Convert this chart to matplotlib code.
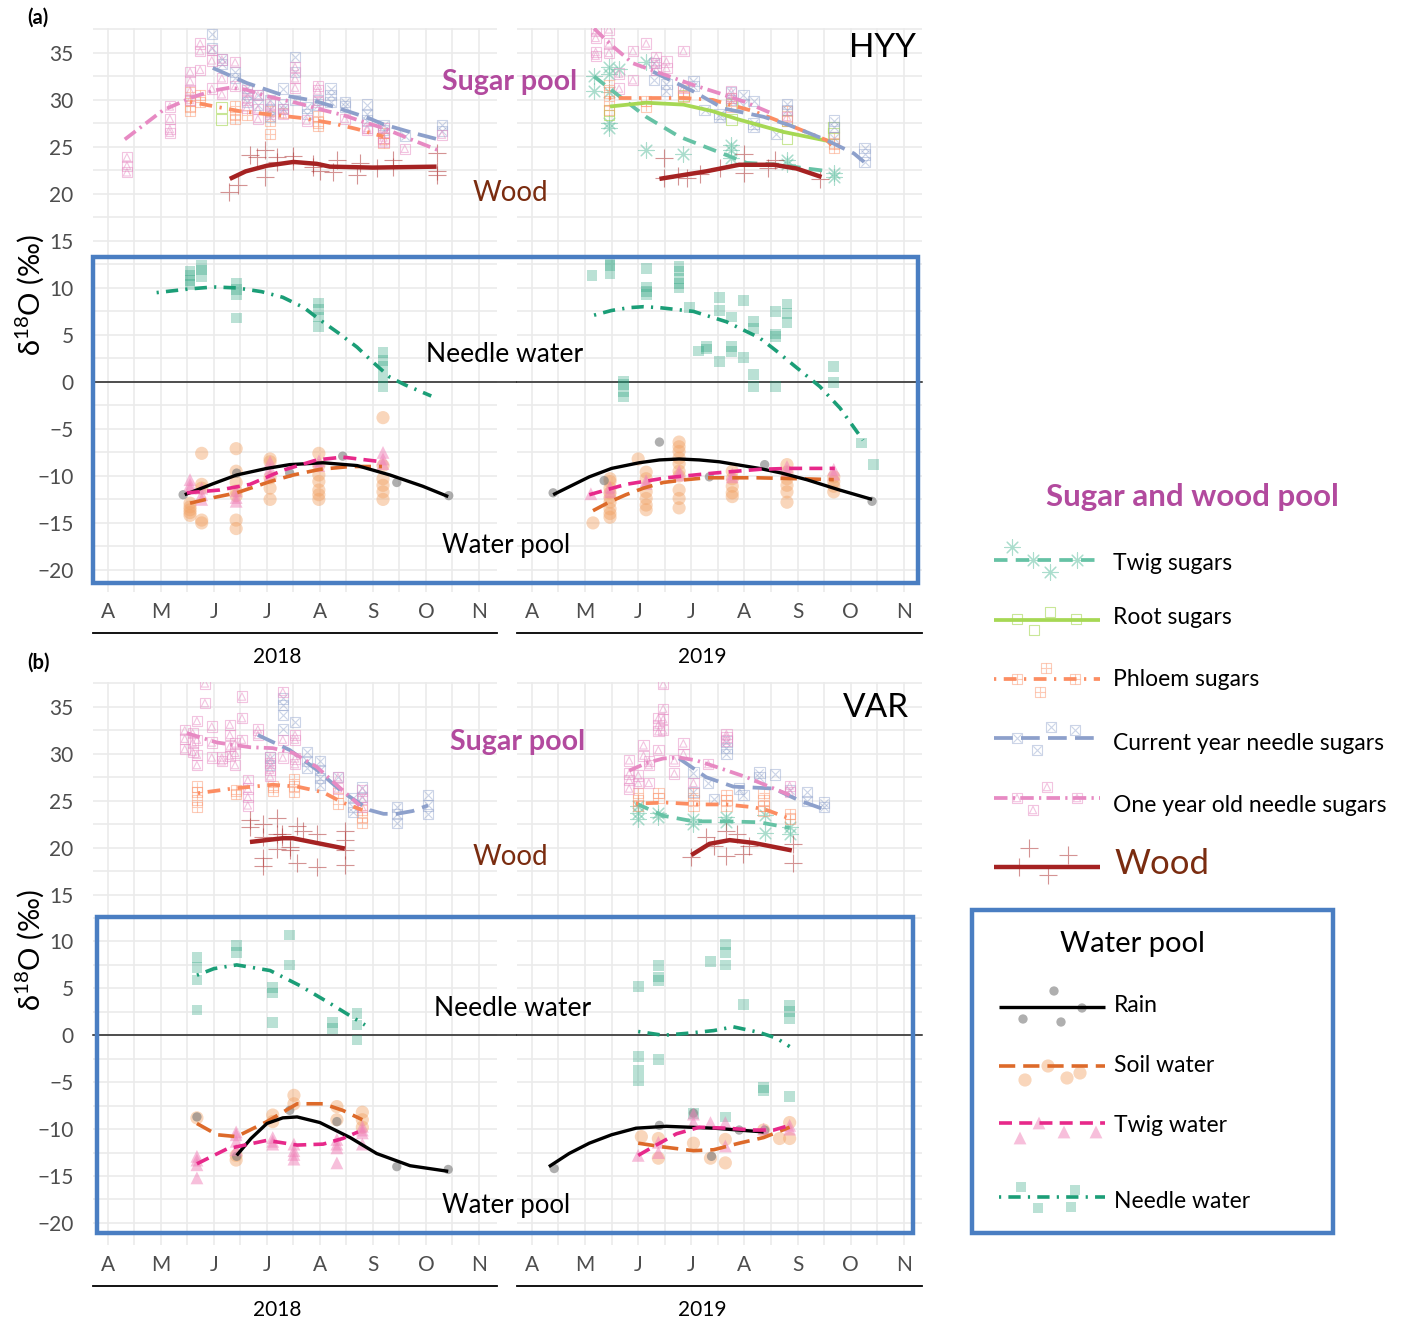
import numpy as np
import matplotlib
matplotlib.use('Agg')
import matplotlib.pyplot as plt
from matplotlib.patches import Rectangle

plt.rcParams['font.family'] = ['Lato', 'DejaVu Sans']
plt.rcParams['mathtext.fontset'] = 'custom'
plt.rcParams['mathtext.rm'] = 'Lato'
plt.rcParams['mathtext.it'] = 'Lato:italic'

W, H = 1404, 1323

# axis ticks
months = [4, 5, 6, 7, 8, 9, 10, 11]
month_labels = ['A', 'M', 'J', 'J', 'A', 'S', 'O', 'N']
y_ticks = [-20, -15, -10, -5, 0, 5, 10, 15, 20, 25, 30, 35]
years = ['2018', '2019']

# ---------------- HYY 2018 (x = month, 4 = 1 April) ----------------
hyy18_oneyr_pts = [(4.36, [23.9, 23.0, 22.3]), (5.17, [29.3, 28.0, 26.9, 26.5]), (5.55, [33.0, 32.0, 31.0, 30.0]),
                   (5.74, [36.0, 35.2, 33.2]), (5.96, [35.3, 34.2, 31.2]), (6.15, [34.3, 32.3, 30.6]),
                   (6.4, [34.0, 31.5]), (6.62, [31.0, 30.0, 29.2]), (6.83, [30.5, 29.0, 28.0]),
                   (7.06, [29.5, 28.5]), (7.3, [29.0, 28.5]), (7.53, [33.5, 32.3, 31.3]), (7.75, [27.8]),
                   (7.96, [31.5, 31.0, 29.8]), (8.47, [28.0]), (8.89, [27.0, 26.8]), (9.2, [27.0, 26.0, 25.5]),
                   (9.6, [24.8]), (10.3, [26.3])]
hyy18_current_pts = [(5.96, [37.0, 35.5]), (6.15, [34.3, 33.8]), (6.4, [33.0, 32.3]), (6.62, [31.3, 30.6, 29.8]),
                     (6.83, [30.5, 29.5]), (7.06, [30.0, 29.0, 28.2]), (7.3, [31.2, 29.5, 29.0]),
                     (7.53, [34.6, 33.0, 30.0]), (7.75, [29.2, 28.5]), (7.96, [30.0, 29.5]),
                     (8.2, [31.2, 30.5, 29.8]), (8.47, [29.8, 29.3]), (8.89, [29.5, 28.5, 27.8]),
                     (9.2, [27.3, 26.8]), (9.6, [26.2]), (10.3, [27.3, 26.7])]
hyy18_phloem_pts = [(5.55, [30.8, 30.0, 29.3, 28.8]), (5.74, [30.5, 29.8]), (6.4, [29.3, 28.4, 28.0]),
                    (6.62, [28.4]), (7.06, [28.8, 27.8, 26.4]), (7.3, [28.6]), (7.96, [28.3, 27.6, 27.2]),
                    (9.2, [26.5, 25.9, 25.4])]
hyy18_root_pts = [(6.15, [29.2, 27.9])]
hyy18_wood_pts = [(6.28, [20.2]), (6.45, [21.0]), (6.68, [24.1]), (6.81, [23.9]), (6.96, [24.7, 21.8]),
                  (7.19, [23.9, 23.4]), (7.49, [24.0, 23.5]), (7.87, [22.9, 23.2]), (8.0, [22.4]),
                  (8.25, [22.3]), (8.32, [23.6]), (8.7, [22.0]), (8.75, [23.3]), (9.08, [22.8]),
                  (9.38, [23.6, 22.9]), (10.2, [24.4, 22.4, 22.0])]
hyy18_oneyr_fit = [(4.32, 25.8), (5.04, 28.9), (5.6, 30.3), (6.0, 31.0), (6.3, 31.3), (6.6, 31.1), (7.0, 30.4),
                   (7.62, 29.6), (8.0, 29.0), (8.43, 28.4), (8.8, 27.7), (9.2, 27.0), (9.76, 25.7), (10.3, 24.5)]
hyy18_current_fit = [(5.98, 33.4), (6.62, 31.8), (7.3, 30.5), (7.9, 29.9), (8.25, 29.3), (8.9, 28.1),
                     (9.2, 27.4), (9.75, 26.5), (10.3, 25.7)]
hyy18_phloem_fit = [(5.55, 29.8), (6.49, 28.8), (7.62, 28.1), (8.25, 27.5), (8.7, 26.9), (9.2, 26.1)]
hyy18_wood_fit = [(6.3, 21.6), (6.6, 22.4), (7.0, 23.0), (7.5, 23.4), (7.94, 23.2), (8.19, 22.9), (9.0, 22.8),
                  (10.2, 22.9)]

hyy18_needle_pts = [(5.55, [11.8, 11.3, 10.8, 10.4]), (5.77, [12.4, 11.9, 11.2]), (6.42, [10.5, 9.8, 9.3, 6.8]),
                    (7.98, [8.4, 7.7, 6.9, 5.9]), (9.19, [3.1, 2.3, 1.6, 0.5, -0.5])]
hyy18_needle_fit = [(4.92, 9.5), (5.55, 9.9), (6.0, 10.1), (6.43, 10.0), (6.9, 9.6), (7.3, 9.0), (7.7, 7.9),
                    (8.0, 6.6), (8.35, 5.2), (8.7, 3.7), (9.0, 2.1), (9.32, 0.5), (9.6, -0.3), (10.1, -1.5)]
hyy18_rain_pts = [(5.42, [-12.0]), (6.43, [-9.7]), (7.43, [-9.7]), (8.43, [-7.9]), (9.45, [-10.7]), (10.43, [-12.1])]
hyy18_rain_fit = [(5.45, -12.0), (6.0, -10.8), (6.43, -9.9), (7.0, -9.2), (7.43, -8.8), (8.06, -8.6), (8.7, -8.9),
                  (9.32, -9.9), (9.94, -11.1), (10.42, -12.2)]
hyy18_soil_pts = [(5.55, [-13.3, -13.6, -13.9, -14.2, -12.9]), (5.77, [-7.6, -10.9, -11.3, -14.7, -15.0]),
                  (6.42, [-7.1, -9.5, -10.7, -11.6, -12.1, -14.7, -15.6]), (7.06, [-8.2, -8.5, -10.2, -11.3, -12.5]),
                  (7.98, [-7.6, -8.9, -9.9, -10.6, -11.5, -12.0, -12.5]),
                  (9.19, [-3.8, -8.9, -10.3, -11.0, -11.7, -12.5])]
hyy18_soil_fit = [(5.55, -12.9), (6.0, -12.3), (6.43, -11.8), (7.06, -10.6), (7.5, -9.9), (8.0, -9.3),
                  (8.57, -9.0), (9.17, -9.0)]
hyy18_twigw_pts = [(5.55, [-10.4, -10.9, -11.3]), (5.77, [-11.3, -12.0, -12.5]), (6.42, [-11.6, -12.3, -12.7]),
                   (7.06, [-8.5, -9.2, -9.9]), (7.98, [-8.4, -8.9]), (9.19, [-7.5, -8.2, -8.7])]
hyy18_twigw_fit = [(5.49, -11.8), (6.11, -11.5), (6.68, -10.9), (7.3, -9.4), (7.94, -8.3), (8.43, -8.0),
                   (9.17, -8.5)]

# ---------------- HYY 2019 ----------------
hyy19_twig_pts = [(5.17, [32.5, 31.0]), (5.45, [33.5, 32.8, 30.8, 27.5, 27.0]), (5.64, [33.3]),
                  (6.15, [34.0, 24.7]), (6.85, [24.2]), (7.75, [25.2, 24.7, 23.8]), (8.8, [23.6, 23.2]),
                  (9.68, [22.2, 21.8])]
hyy19_oneyr_pts = [(5.2, [37.3, 36.6, 35.1, 34.7]), (5.45, [37.5, 36.0, 35.0]), (5.64, [32.8, 31.2]),
                   (5.9, [35.2, 32.1]), (6.15, [36.0]), (6.34, [34.6, 33.9, 33.2]), (6.53, [34.1, 33.4]),
                   (6.85, [35.2, 31.3]), (7.75, [30.9, 30.2]), (8.8, [28.2])]
hyy19_current_pts = [(6.3, [33.9, 32.1]), (6.53, [31.7, 31.0]), (7.04, [32.0, 31.5]), (7.25, [28.9]),
                     (7.53, [28.5, 28.2]), (7.75, [30.8, 30.0]), (7.98, [30.5, 29.5]), (8.17, [29.9, 27.5, 27.1]),
                     (8.6, [26.4]), (8.8, [29.6, 28.9]), (9.68, [27.8, 27.1, 26.0]), (10.26, [24.9, 24.2, 23.4])]
hyy19_phloem_pts = [(5.45, [31.6, 30.8, 29.9, 28.9]), (6.15, [29.9, 29.3]), (6.85, [31.0, 30.3]),
                    (7.75, [30.2, 29.3]), (8.8, [28.8, 27.8]), (9.68, [26.0, 25.3, 24.9])]
hyy19_root_pts = [(5.45, [28.9, 28.4]), (6.85, [30.5]), (7.75, [29.5, 27.9]), (8.8, [27.8, 25.9]),
                  (9.68, [27.1, 26.4])]
hyy19_wood_pts = [(6.49, [23.8, 21.7]), (6.74, [21.9]), (6.92, [21.7]), (7.17, [22.1]), (7.53, [22.8]),
                  (8.0, [24.2, 22.2]), (8.45, [22.8]), (8.58, [23.6]), (9.43, [21.6])]
hyy19_twig_fit = [(5.17, 32.5), (5.53, 30.9), (6.15, 28.2), (6.77, 26.1), (7.4, 24.7), (8.04, 23.3), (8.66, 23.1),
                  (9.17, 22.7), (9.6, 22.4)]
hyy19_root_fit = [(5.47, 29.3), (6.15, 29.7), (6.85, 29.5), (7.4, 28.8), (7.9, 27.9), (8.73, 26.6), (9.6, 25.6)]
hyy19_phloem_fit = [(5.45, 30.2), (6.15, 30.2), (6.85, 30.2), (7.4, 30.0), (8.17, 28.8), (8.85, 27.3),
                    (9.55, 25.7), (9.64, 25.2)]
hyy19_current_fit = [(6.28, 33.0), (7.04, 30.9), (7.6, 29.1), (8.36, 28.2), (8.85, 27.3), (9.55, 25.7),
                     (10.06, 24.3), (10.25, 23.4)]
hyy19_oneyr_fit = [(5.17, 37.6), (5.5, 35.8), (5.9, 33.9), (6.34, 33.0), (7.03, 31.6), (7.53, 30.7),
                   (8.0, 29.8), (8.5, 28.6)]
hyy19_wood_fit = [(6.4, 21.6), (7.28, 22.4), (7.9, 23.1), (8.55, 23.1), (8.98, 22.7), (9.45, 21.8)]

hyy19_needle_pts = [(5.13, [11.3]), (5.47, [12.7, 12.4, 11.5]), (5.72, [0.1, -0.3, -1.0, -1.6]),
                    (6.15, [12.1, 10.1, 9.6, 9.3]), (6.77, [12.3, 11.8, 11.0, 10.5, 10.0]), (6.96, [7.9]),
                    (7.13, [3.3]), (7.28, [3.8, 3.5]), (7.53, [9.0, 7.6, 2.2]), (7.75, [6.9, 3.8, 3.2]),
                    (7.98, [8.7, 2.6]), (8.17, [6.4, 5.7, 0.8, -0.5]), (8.58, [7.5, 5.1, 4.8, -0.5]),
                    (8.8, [8.3, 7.3, 6.3]), (9.68, [1.6, -0.1]), (10.2, [-6.5]), (10.43, [-8.8])]
hyy19_needle_fit = [(5.17, 7.1), (5.5, 7.6), (5.83, 7.9), (6.1, 8.0), (6.4, 7.9), (7.04, 7.5), (7.66, 6.4),
                    (8.28, 4.7), (8.6, 3.3), (8.92, 1.8), (9.42, -0.5), (9.8, -2.8), (10.23, -6.2)]
hyy19_rain_pts = [(4.4, [-11.8]), (5.36, [-10.5]), (6.4, [-6.4]), (7.34, [-10.1]), (8.38, [-8.8]), (10.4, [-12.7])]
hyy19_rain_fit = [(4.4, -12.0), (5.08, -10.1), (5.5, -9.2), (6.02, -8.6), (6.4, -8.3), (6.77, -8.2),
                  (7.15, -8.3), (7.53, -8.5), (8.28, -9.2), (8.7, -9.7), (9.17, -10.4), (9.79, -11.5),
                  (10.4, -12.5)]
hyy19_soil_pts = [(5.15, [-15.0]), (5.47, [-10.3, -10.6, -11.3, -11.8, -12.3, -12.8, -13.5, -14.0, -14.4]),
                  (6.0, [-8.2]), (6.15, [-9.6, -10.3, -11.7, -12.4, -13.1, -13.6]),
                  (6.77, [-6.4, -6.9, -7.4, -8.1, -8.7, -9.5, -10.0, -11.5, -12.4, -13.4]),
                  (7.77, [-9.5, -10.3, -11.1, -11.8, -12.2]), (8.8, [-8.8, -9.6, -10.3, -11.0, -11.7, -12.8]),
                  (9.68, [-10.1, -10.6, -11.1, -11.7])]
hyy19_soil_fit = [(5.15, -13.7), (5.45, -12.8), (5.77, -12.0), (6.1, -11.3), (6.47, -10.7), (6.9, -10.4),
                  (7.28, -10.2), (8.23, -10.2), (9.04, -10.3), (9.68, -10.4)]
hyy19_twigw_pts = [(5.11, [-11.9]), (5.47, [-11.2, -11.7]), (6.15, [-10.5, -10.8]), (6.77, [-9.5, -9.9]),
                   (7.77, [-9.8, -10.1]), (8.8, [-9.0, -9.5]), (9.68, [-9.3, -9.8])]
hyy19_twigw_fit = [(5.08, -12.0), (5.77, -10.9), (6.53, -10.2), (7.42, -9.7), (8.28, -9.3), (8.85, -9.2),
                   (9.7, -9.2)]

# ---------------- VAR 2018 ----------------
var18_oneyr_pts = [(5.45, [32.5, 31.6, 30.5]), (5.6, [32.2, 31.2, 30.2]), (5.68, [33.5, 31.5, 29.9, 28.8]),
                   (5.83, [37.5, 35.4]), (5.96, [32.9, 31.2, 29.6]), (6.15, [29.6, 29.2]),
                   (6.3, [33.1, 32.0, 30.8, 29.8]), (6.4, [31.1, 30.1, 28.8]), (6.53, [36.1, 33.8, 31.5]),
                   (6.64, [27.2, 26.3, 25.4, 24.5]), (6.83, [32.6, 32.0]), (7.06, [29.6, 29.0, 28.3, 27.6]),
                   (7.3, [36.6, 31.5, 29.6]), (7.53, [32.0, 31.5, 29.5, 28.9]), (8.34, [27.5, 26.3]),
                   (8.8, [26.1, 25.2, 24.3])]
var18_current_pts = [(7.06, [29.6, 28.8]), (7.3, [35.9, 35.2, 34.1, 32.6]), (7.53, [33.4]),
                     (7.75, [30.2, 29.2, 28.5]), (8.0, [29.2, 28.3, 27.4, 26.7]), (8.34, [27.5]),
                     (8.62, [25.3, 24.3, 23.8]), (8.8, [26.4, 25.4]), (9.45, [24.3, 23.6, 22.6]),
                     (10.04, [25.6, 24.5, 23.6])]
var18_phloem_pts = [(5.68, [26.5, 25.9, 25.1, 24.3]), (6.42, [26.1, 25.7]), (7.11, [26.5, 26.1]),
                    (7.51, [27.3, 26.6, 25.9]), (8.34, [25.8, 24.7]), (8.8, [24.0, 23.3, 22.6])]
var18_wood_pts = [(6.68, [22.9, 22.2]), (6.92, [22.5, 21.1, 18.9, 18.0]), (7.19, [23.2, 21.5, 19.9]),
                  (7.28, [21.5, 21.1]), (7.43, [20.1, 19.7]), (7.57, [22.3, 18.4]), (7.68, [21.8]),
                  (7.94, [21.5, 17.9]), (8.47, [21.8, 20.8, 19.7, 18.1])]
var18_oneyr_fit = [(5.49, 32.2), (6.06, 31.2), (6.68, 30.7), (7.11, 30.6), (7.49, 30.1), (7.94, 28.6),
                   (8.43, 26.1), (8.75, 24.5)]
var18_current_fit = [(6.83, 32.0), (7.43, 30.4), (7.94, 28.3), (8.43, 25.9), (8.94, 24.0), (9.2, 23.6),
                     (9.45, 23.6), (9.75, 23.9), (10.04, 24.5)]
var18_phloem_fit = [(5.7, 25.8), (6.36, 26.3), (7.11, 26.7), (7.57, 26.5), (8.06, 25.9), (8.43, 24.8),
                    (8.8, 24.0)]
var18_wood_fit = [(6.68, 20.6), (7.3, 21.0), (7.49, 21.0), (8.47, 19.9)]

var18_needle_pts = [(5.68, [8.3, 7.2, 5.9, 2.7]), (6.42, [9.6, 8.8]), (7.11, [5.1, 4.5, 1.4]), (7.43, [10.7, 7.5]),
                    (8.24, [1.4, 0.7]), (8.7, [2.3, 1.1, -0.5])]
var18_needle_fit = [(5.68, 6.4), (6.0, 7.1), (6.43, 7.5), (7.06, 6.9), (7.62, 5.3), (8.19, 3.4), (8.85, 1.1)]
var18_rain_pts = [(5.68, [-8.7]), (6.43, [-12.9]), (7.43, [-8.0]), (8.32, [-9.2]), (9.45, [-14.0]), (10.42, [-14.3])]
var18_rain_fit = [(6.43, -12.8), (6.7, -11.0), (7.0, -9.4), (7.3, -8.8), (7.57, -8.7), (8.0, -9.3), (8.57, -10.9),
                  (9.07, -12.6), (9.7, -13.9), (10.42, -14.5)]
var18_soil_pts = [(5.68, [-8.8]), (6.42, [-13.3, -12.8]), (7.11, [-8.5, -9.2]), (7.51, [-6.4, -7.3]),
                  (8.32, [-7.6, -9.0]), (8.8, [-8.2, -9.0, -9.8])]
var18_soil_fit = [(5.68, -9.4), (6.06, -10.6), (6.43, -10.8), (7.0, -9.2), (7.57, -7.3), (8.06, -7.3),
                  (8.43, -8.0), (8.8, -9.0)]
var18_twigw_pts = [(5.68, [-12.9, -13.3, -13.8, -15.2]), (6.42, [-10.3, -10.6, -11.3, -12.2]),
                   (7.11, [-10.9, -11.3, -11.6]), (7.51, [-11.6, -12.3, -12.7, -13.2]),
                   (8.32, [-11.1, -11.6, -12.0, -13.6]), (8.8, [-9.7, -10.1, -10.4, -11.6])]
var18_twigw_fit = [(5.68, -13.7), (6.25, -12.1), (7.0, -11.2), (7.57, -11.7), (8.06, -11.6), (8.43, -11.0),
                   (8.72, -10.3)]

# ---------------- VAR 2019 ----------------
var19_oneyr_pts = [(5.83, [29.3, 27.9, 27.2, 26.3]), (6.0, [27.7, 26.9]), (6.1, [30.9, 29.8]),
                   (6.2, [29.2, 28.8, 26.9]), (6.38, [33.8, 33.1, 32.4, 30.4]), (6.47, [37.4, 34.8, 33.7, 32.5]),
                   (6.68, [29.3, 27.9]), (6.85, [31.1, 30.0]), (7.04, [26.9]), (7.32, [28.9]),
                   (7.66, [32.1, 31.8, 31.4]), (8.85, [26.6, 25.9])]
var19_current_pts = [(7.04, [28.0, 25.9]), (7.32, [26.9]), (7.43, [25.2]), (7.66, [31.3, 30.6, 30.0]),
                     (7.9, [26.3]), (7.98, [25.6]), (8.28, [28.0, 27.5]), (8.57, [27.8]), (8.85, [26.1]),
                     (9.17, [25.9, 25.0]), (9.49, [24.8, 24.3])]
var19_phloem_pts = [(6.0, [25.8, 25.1, 24.4]), (6.38, [25.8, 25.3]), (7.04, [25.8, 25.1, 24.4]),
                    (7.66, [25.6, 25.1, 24.4]), (8.36, [25.8, 25.1, 24.4, 23.9]), (8.85, [23.6, 23.1])]
var19_twig_pts = [(6.0, [24.4, 23.7, 23.0]), (6.38, [23.7, 23.3]), (7.04, [23.0, 22.5]), (7.66, [23.3, 22.7]),
                  (8.38, [23.5, 21.6]), (8.85, [22.2, 21.5])]
var19_wood_pts = [(7.0, [19.0]), (7.28, [21.1]), (7.43, [20.2]), (7.66, [21.8, 19.1]), (7.85, [21.4]),
                  (7.98, [19.3]), (8.09, [20.2]), (8.92, [20.4, 18.4])]
var19_oneyr_fit = [(5.83, 28.2), (6.15, 29.0), (6.47, 29.5), (6.77, 29.6), (7.09, 29.3), (7.47, 28.6),
                   (8.04, 27.5), (8.55, 26.3), (8.85, 25.6)]
var19_current_fit = [(6.77, 29.5), (7.28, 27.5), (7.79, 26.5), (8.17, 26.4), (8.55, 26.3), (9.04, 25.0),
                     (9.49, 24.1)]
var19_phloem_fit = [(5.96, 24.7), (6.53, 24.8), (7.15, 24.6), (7.66, 24.6), (8.17, 24.3), (8.42, 24.0),
                    (8.85, 23.1)]
var19_twig_fit = [(5.96, 24.7), (6.47, 23.4), (7.04, 22.8), (7.66, 22.8), (8.28, 22.7), (8.85, 22.1)]
var19_wood_fit = [(7.0, 19.2), (7.34, 20.4), (7.72, 20.8), (8.17, 20.5), (8.89, 19.7)]

var19_needle_pts = [(6.0, [5.2, -2.3, -3.7, -4.8]), (6.38, [7.4, 6.2, 5.8, -2.6]), (7.04, [-8.3]), (7.36, [7.9]),
                    (7.64, [9.7, 8.8, 7.5, -8.7]), (7.98, [3.3]), (8.36, [-5.6, -5.9]),
                    (8.85, [3.2, 2.5, 1.8, -6.5])]
var19_needle_fit = [(6.0, 0.4), (6.47, 0.0), (6.9, 0.2), (7.42, 0.5), (7.79, 0.9), (8.28, 0.3), (8.6, -0.3),
                    (8.85, -1.2)]
var19_rain_pts = [(4.42, [-14.2]), (6.4, [-9.6]), (7.04, [-8.3]), (7.38, [-12.9]), (7.9, [-10.1]), (8.38, [-10.1])]
var19_rain_fit = [(4.32, -14.0), (4.7, -12.6), (5.08, -11.5), (5.5, -10.6), (5.96, -9.9), (6.53, -9.7),
                  (7.42, -9.9), (8.36, -10.3)]
var19_soil_pts = [(6.06, [-10.8]), (6.38, [-11.0, -13.1]), (7.04, [-11.5]), (7.36, [-13.1]),
                  (7.64, [-11.1, -13.6]), (8.36, [-10.1]), (8.66, [-11.0]), (8.85, [-9.3, -11.0])]
var19_soil_fit = [(6.0, -11.5), (6.47, -11.9), (7.04, -12.3), (7.42, -12.2), (7.9, -11.5), (8.36, -10.9),
                  (8.85, -9.8)]
var19_twigw_pts = [(6.0, [-12.8]), (6.38, [-11.4, -12.5]), (7.04, [-8.4, -9.3]), (7.36, [-9.3]),
                   (7.64, [-9.3, -11.8]), (8.36, [-10.0]), (8.85, [-9.6, -10.0])]
var19_twigw_fit = [(6.0, -12.8), (6.34, -11.7), (6.72, -10.5), (7.15, -9.8), (7.66, -9.9), (8.17, -10.1),
                   (8.55, -10.1), (8.85, -9.6)]

# ---------------- styles ----------------
DOTDASH = (0, (0.6, 2.0, 3.4, 2.0))
STYLE = {
    'twig': dict(color='#66C2A5', ls=(0, (3.6, 2.2)), lw=2.7),
    'root': dict(color='#A6D854', ls='-', lw=2.7),
    'phloem': dict(color='#FC8D62', ls=DOTDASH, lw=2.7),
    'current': dict(color='#8DA0CB', ls=(0, (5.0, 2.2)), lw=2.7),
    'oneyr': dict(color='#E78AC3', ls=(0, (3.6, 1.4, 0.6, 1.4)), lw=2.7),
    'wood': dict(color='#A52222', ls='-', lw=3.2),
    'rain': dict(color='black', ls='-', lw=2.4),
    'soil': dict(color='#DD6A2A', ls=(0, (4.5, 2.2)), lw=2.6),
    'twigw': dict(color='#E7298A', ls=(0, (3.6, 2.0)), lw=2.6),
    'needle': dict(color='#1B9E77', ls=DOTDASH, lw=2.6),
}


def marks(ax, xs, ys, kind):
    if kind == 'twig':
        ax.scatter(xs, ys, marker=(8, 2, 0), s=120, color='#66C2A5', linewidths=0.8, alpha=0.55, zorder=2)
    elif kind == 'root':
        ax.scatter(xs, ys, marker='s', s=60, facecolors='none', edgecolors='#A6D854', linewidths=0.8, alpha=0.6, zorder=2)
    elif kind == 'phloem':
        ax.scatter(xs, ys, marker='s', s=55, facecolors='none', edgecolors='#FC8D62', linewidths=0.8, alpha=0.45, zorder=2)
        ax.scatter(xs, ys, marker='+', s=50, color='#FC8D62', linewidths=0.8, alpha=0.45, zorder=2)
    elif kind == 'current':
        ax.scatter(xs, ys, marker='s', s=55, facecolors='none', edgecolors='#8DA0CB', linewidths=0.8, alpha=0.45, zorder=2)
        ax.scatter(xs, ys, marker='x', s=35, color='#8DA0CB', linewidths=0.8, alpha=0.45, zorder=2)
    elif kind == 'oneyr':
        ax.scatter(xs, ys, marker='s', s=55, facecolors='none', edgecolors='#E78AC3', linewidths=0.8, alpha=0.5, zorder=2)
        ax.scatter(xs, ys, marker='^', s=28, facecolors='none', edgecolors='#E78AC3', linewidths=0.8, alpha=0.5, zorder=2)
    elif kind == 'wood':
        ax.scatter(xs, ys, marker='+', s=150, color='#B23A3A', linewidths=0.8, alpha=0.55, zorder=2)
    elif kind == 'rain':
        ax.scatter(xs, ys, marker='o', s=45, color='#7A7A7A', edgecolors='none', alpha=0.6, zorder=2)
    elif kind == 'soil':
        ax.scatter(xs, ys, marker='o', s=90, color='#F2A468', edgecolors='none', alpha=0.45, zorder=2)
    elif kind == 'twigw':
        ax.scatter(xs, ys, marker='^', s=85, color='#F080B8', edgecolors='none', alpha=0.5, zorder=2)
    elif kind == 'needle':
        ax.scatter(xs, ys, marker='s', s=60, color='#1B9E77', edgecolors='none', alpha=0.3, zorder=2)


def draw_series(ax, kind, pts, fit):
    xs = [m for m, vals in pts for _ in vals]
    ys = [v for m, vals in pts for v in vals]
    marks(ax, xs, ys, kind)
    st = STYLE[kind]
    ax.plot([p[0] for p in fit], [p[1] for p in fit], color=st['color'], ls=st['ls'], lw=st['lw'],
            solid_capstyle='butt', dash_capstyle='butt', zorder=3)


panels = {
    ('a', 0): [('needle', hyy18_needle_pts, hyy18_needle_fit), ('soil', hyy18_soil_pts, hyy18_soil_fit),
               ('rain', hyy18_rain_pts, hyy18_rain_fit), ('twigw', hyy18_twigw_pts, hyy18_twigw_fit),
               ('root', hyy18_root_pts, []), ('phloem', hyy18_phloem_pts, hyy18_phloem_fit),
               ('current', hyy18_current_pts, hyy18_current_fit), ('oneyr', hyy18_oneyr_pts, hyy18_oneyr_fit),
               ('wood', hyy18_wood_pts, hyy18_wood_fit)],
    ('a', 1): [('needle', hyy19_needle_pts, hyy19_needle_fit), ('soil', hyy19_soil_pts, hyy19_soil_fit),
               ('rain', hyy19_rain_pts, hyy19_rain_fit), ('twigw', hyy19_twigw_pts, hyy19_twigw_fit),
               ('twig', hyy19_twig_pts, hyy19_twig_fit), ('root', hyy19_root_pts, hyy19_root_fit),
               ('phloem', hyy19_phloem_pts, hyy19_phloem_fit), ('current', hyy19_current_pts, hyy19_current_fit),
               ('oneyr', hyy19_oneyr_pts, hyy19_oneyr_fit), ('wood', hyy19_wood_pts, hyy19_wood_fit)],
    ('b', 0): [('needle', var18_needle_pts, var18_needle_fit), ('soil', var18_soil_pts, var18_soil_fit),
               ('rain', var18_rain_pts, var18_rain_fit), ('twigw', var18_twigw_pts, var18_twigw_fit),
               ('phloem', var18_phloem_pts, var18_phloem_fit), ('current', var18_current_pts, var18_current_fit),
               ('oneyr', var18_oneyr_pts, var18_oneyr_fit), ('wood', var18_wood_pts, var18_wood_fit)],
    ('b', 1): [('needle', var19_needle_pts, var19_needle_fit), ('soil', var19_soil_pts, var19_soil_fit),
               ('rain', var19_rain_pts, var19_rain_fit), ('twigw', var19_twigw_pts, var19_twigw_fit),
               ('twig', var19_twig_pts, var19_twig_fit), ('phloem', var19_phloem_pts, var19_phloem_fit),
               ('current', var19_current_pts, var19_current_fit), ('oneyr', var19_oneyr_pts, var19_oneyr_fit),
               ('wood', var19_wood_pts, var19_wood_fit)],
}

fig = plt.figure(figsize=(W / 100, H / 100), dpi=100)


def add_ax(x0, y0, x1, y1):
    return fig.add_axes([x0 / W, 1 - y1 / H, (x1 - x0) / W, (y1 - y0) / H])


panel_box = {'a': (28, 592), 'b': (682, 1245)}
col_box = [(93, 497), (517, 922)]

for (row, col), series in panels.items():
    top, bot = panel_box[row]
    left, right = col_box[col]
    ax = add_ax(left, top, right, bot)
    ax.set_xlim(3.72, 11.34)
    ax.set_ylim(-22.35, 37.65)
    ax.set_xticks(months)
    ax.set_xticks([m + 0.5 for m in months[:-1]], minor=True)
    ax.set_yticks(y_ticks)
    ax.set_yticks([t + 2.5 for t in y_ticks], minor=True)
    ax.set_xticklabels(month_labels, fontsize=15, color='#4D4D4D')
    ax.set_yticklabels([str(t).replace('-', '\u2212') for t in y_ticks], fontsize=15, color='#4D4D4D')
    ax.tick_params(which='both', length=0)
    ax.tick_params(axis='x', pad=7)
    ax.tick_params(axis='y', pad=14)
    if col == 1:
        ax.tick_params(labelleft=False)
    ax.grid(which='both', color='#EBEBEB', lw=1.2)
    ax.set_axisbelow(True)
    for s in ax.spines.values():
        s.set_visible(False)
    xmax = 1.0 + (20 / 404 if col == 0 else 0)
    ax.axhline(0, xmin=0, xmax=xmax, color='#222222', lw=1.1, zorder=1.5, clip_on=False)
    for kind, pts, fit in series:
        draw_series(ax, kind, pts, fit)
    ax.plot([0, 1], [-0.073, -0.073], transform=ax.transAxes, clip_on=False, color='black', lw=1.3)
    ax.text(0.457, -0.115, years[col], transform=ax.transAxes, ha='center', va='center', fontsize=15)

# overlay for annotations, boxes and legend (pixel coordinates)
lg = fig.add_axes([0, 0, 1, 1])
lg.set_xlim(0, W)
lg.set_ylim(H, 0)
lg.axis('off')
lg.set_zorder(10)

BLUE = '#4A7EC2'
PURPLE = '#B24A9E'
BROWN = '#7A2C10'
lg.add_patch(Rectangle((93, 257), 825, 326, fill=False, ec=BLUE, lw=3.2))
lg.add_patch(Rectangle((97, 917), 816, 316, fill=False, ec=BLUE, lw=3.2))
lg.add_patch(Rectangle((972, 910), 361, 323, fill=False, ec=BLUE, lw=3.2))

lg.text(38, 18, '(a)', fontsize=14.5, fontweight='bold', ha='center', va='center')
lg.text(38, 663, '(b)', fontsize=14.5, fontweight='bold', ha='center', va='center')
ylab = '\u03b4$^{\\mathregular{18}}$O (\u2030)'
lg.text(30, 295, ylab, fontsize=21, rotation=90, ha='center', va='center')
lg.text(30, 950, ylab, fontsize=21, rotation=90, ha='center', va='center')

lg.text(882, 48, 'HYY', fontsize=24, ha='center', va='center')
lg.text(876, 708, 'VAR', fontsize=24, ha='center', va='center')
lg.text(510, 82, 'Sugar pool', fontsize=20.5, fontweight='bold', color=PURPLE, ha='center', va='center')
lg.text(518, 742, 'Sugar pool', fontsize=20.5, fontweight='bold', color=PURPLE, ha='center', va='center')
lg.text(510, 193, 'Wood', fontsize=20, color=BROWN, ha='center', va='center')
lg.text(510, 857, 'Wood', fontsize=20, color=BROWN, ha='center', va='center')
lg.text(505, 355, 'Needle water', fontsize=19, ha='center', va='center')
lg.text(513, 1009, 'Needle water', fontsize=19, ha='center', va='center')
lg.text(506, 545, 'Water pool', fontsize=18.5, ha='center', va='center')
lg.text(506, 1205, 'Water pool', fontsize=18.5, ha='center', va='center')

# legend: sugar and wood pool
lg.text(1192, 497, 'Sugar and wood pool', fontsize=22.5, fontweight='bold', color=PURPLE, ha='center', va='center')
sugar_keys = [
    ('twig', 'Twig sugars', 560, 563, [(1012, 547), (1033, 560), (1050, 572), (1077, 560)]),
    ('root', 'Root sugars', 620, 617, [(1017, 619), (1034, 630), (1050, 612), (1076, 619)]),
    ('phloem', 'Phloem sugars', 679, 680, [(1017, 679), (1046, 668), (1040, 692), (1075, 679)]),
    ('current', 'Current year needle sugars', 738, 743, [(1017, 738), (1051, 727), (1037, 750), (1075, 730)]),
    ('oneyr', 'One year old needle sugars', 798, 806, [(1017, 798), (1047, 787), (1033, 810), (1077, 798)]),
    ('wood', 'Wood', 867, 864, [(1029, 848), (1068, 855), (1048, 875), (1019, 867)]),
]
for kind, label, yk, yt, pos in sugar_keys:
    st = STYLE[kind]
    marks(lg, [p[0] for p in pos], [p[1] for p in pos], kind)
    lg.plot([994, 1100], [yk, yk], color=st['color'], ls=st['ls'], lw=st['lw'], solid_capstyle='butt')
    if kind == 'wood':
        lg.text(1114, yt, label, fontsize=25, color=BROWN, ha='left', va='center')
    else:
        lg.text(1113, yt, label, fontsize=16.5, ha='left', va='center')

# legend: water pool
lg.text(1132, 944, 'Water pool', fontsize=21, ha='center', va='center')
water_keys = [
    ('rain', 'Rain', 1007, 1006, [(1054, 991), (1023, 1019), (1061, 1022), (1082, 1008)]),
    ('soil', 'Soil water', 1066, 1065, [(1048, 1066), (1025, 1080), (1067, 1078), (1080, 1073)]),
    ('twigw', 'Twig water', 1123, 1126, [(1020, 1138), (1039, 1123), (1064, 1132), (1096, 1132)]),
    ('needle', 'Needle water', 1197, 1201, [(1021, 1187), (1038, 1208), (1075, 1190), (1071, 1207)]),
]
for kind, label, yk, yt, pos in water_keys:
    st = STYLE[kind]
    marks(lg, [p[0] for p in pos], [p[1] for p in pos], kind)
    lg.plot([999, 1105], [yk, yk], color=st['color'], ls=st['ls'], lw=st['lw'], solid_capstyle='butt')
    lg.text(1114, yt, label, fontsize=16.5, ha='left', va='center')

fig.savefig('out.png', dpi=100)
